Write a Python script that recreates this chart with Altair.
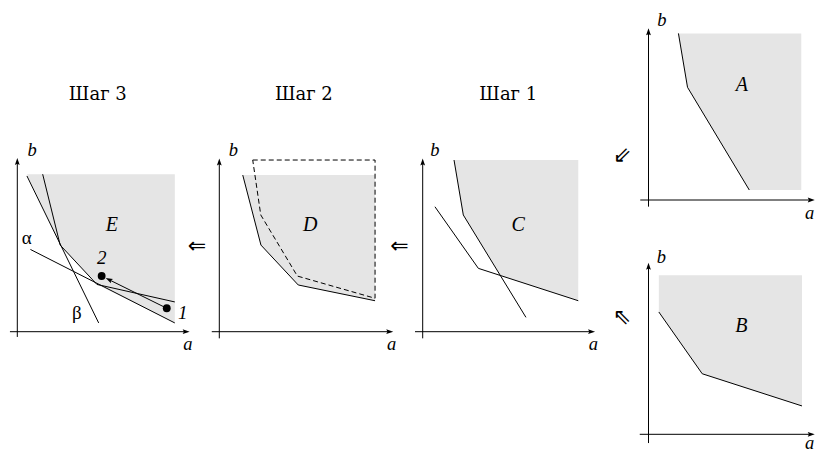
import math
import altair as alt
import pandas as pd

# ------------------------------------------------------------------
# DATA (panel units: a = horizontal, b = vertical)
# ------------------------------------------------------------------
# Step 3 panel (E)
E_region_a = [0.55, 2.45, 4.55, 9.0]
E_region_b = [9.0, 4.95, 2.7, 0.5]
E_region_top = 9.0
E_beta_a = [0.55, 4.65]
E_beta_b = [8.9, 0.5]
E_alpha_a = [0.75, 9.0]
E_alpha_b = [4.7, 0.5]
E_poly_a = [1.45, 2.45, 4.55, 9.0]
E_poly_b = [9.0, 4.95, 2.7, 1.7]
E_pts_name = ["1", "2"]
E_pts_a = [8.54, 4.82]
E_pts_b = [1.34, 3.18]

# Step 2 panel (D)
D_region_a = [1.34, 2.38, 4.51, 8.9]
D_region_b = [8.95, 4.95, 2.67, 1.77]
D_region_top = 8.95
D_dash_a = [1.91, 8.9, 8.9, 4.46, 2.37, 1.91]
D_dash_b = [9.81, 9.81, 1.91, 3.18, 6.67, 9.81]

# Step 1 panel (C)
C_region_a = [1.79, 2.32, 4.44, 8.89]
C_region_b = [9.81, 6.67, 3.21, 1.77]
C_region_top = 9.81
C_line1_a = [1.79, 2.32, 5.9]
C_line1_b = [9.81, 6.67, 0.82]
C_line2_a = [0.7, 3.18, 8.89]
C_line2_b = [7.14, 3.62, 1.77]

# Panel A
A_region_a = [1.71, 2.23, 5.76, 8.73]
A_region_b = [9.52, 6.44, 0.57, 0.57]
A_region_top = 9.52
A_line_a = [1.71, 2.23, 5.76]
A_line_b = [9.52, 6.44, 0.57]

# Panel B
B_region_a = [0.59, 3.07, 8.77]
B_region_b = [6.99, 3.46, 1.62]
B_region_top = 9.09
B_line_a = [0.59, 3.07, 8.77]
B_line_b = [6.99, 3.46, 1.62]

# axis extents per panel: a_from, a_to (arrow tip), b_from, b_to (arrow tip)
AXES = {
    "E": [-0.42, 9.85, -0.3, 9.93],
    "D": [-0.43, 9.94, -0.38, 9.9],
    "C": [-0.44, 9.85, -0.38, 9.9],
    "A": [-0.47, 9.5, -0.38, 9.81],
    "B": [-0.5, 9.5, -0.5, 9.8],
}

# text labels: (panel, text, a, b)
AXIS_NAMES = [
    ("E", "b", 0.84, 10.38), ("E", "a", 9.75, -0.68),
    ("D", "b", 0.8, 10.38), ("D", "a", 9.85, -0.68),
    ("C", "b", 0.7, 10.38), ("C", "a", 9.75, -0.68),
    ("A", "b", 0.77, 10.3), ("A", "a", 9.2, -0.72),
    ("B", "b", 0.73, 10.13), ("B", "a", 9.2, -0.51),
]
REGION_NAMES = [("E", "E", 5.4, 6.1), ("D", "D", 5.2, 6.1), ("C", "C", 5.46, 6.1),
                ("A", "A", 5.34, 6.57), ("B", "B", 5.3, 6.17)]
POINT_NAMES = [("E", "1", 9.45, 1.07), ("E", "2", 4.82, 4.2)]
GREEK = [("E", "α", 0.54, 5.35), ("E", "β", 3.4, 1.07)]
TITLES = [("E", "Шаг 3", 4.6, 13.5), ("D", "Шаг 2", 4.83, 13.5), ("C", "Шаг 1", 4.89, 13.5)]
ARROWS = [("E", "⇐", 10.27, 4.9), ("D", "⇐", 10.3, 4.9),
          ("A", "⇙", -1.5, 2.57), ("B", "⇖", -1.51, 6.7)]

# ------------------------------------------------------------------
# LAYOUT (page pixels) and styles
# ------------------------------------------------------------------
U = 17.5  # pixels per unit
COLS = {"E": (8, 208, 17.3), "D": (208, 410, 219.3), "C": (410, 610, 422.7),
        "A": (610, 816, 648.5), "B": (610, 816, 648.5)}
ROWS = {"E": (8, 453, 331.7), "D": (8, 453, 331.7), "C": (8, 453, 331.7),
        "A": (8, 240, 200.0), "B": (240, 453, 434.3)}
GRAY = "#e5e5e5"
SERIF = "Liberation Serif"
HEAD = "M0,-1L0.6,0.75L0,0.45L-0.6,0.75Z"
HEAD_SIZE = 64
HEAD_R = math.sqrt(HEAD_SIZE) / 2 / U


def geom(p):
    x0, x1, ox = COLS[p]
    y0, y1, oy = ROWS[p]
    xs = alt.Scale(domain=[(x0 - ox) / U, (x1 - ox) / U], nice=False, zero=False)
    ys = alt.Scale(domain=[(oy - y1) / U, (oy - y0) / U], nice=False, zero=False)
    return xs, ys, x1 - x0, y1 - y0


def xy(xs, ys, xf="a", yf="b"):
    return dict(x=alt.X(f"{xf}:Q", scale=xs, axis=None),
                y=alt.Y(f"{yf}:Q", scale=ys, axis=None))


def region(a_list, b_list, top, xs, ys):
    df = pd.DataFrame({"a": a_list, "b": b_list, "b2": [top] * len(a_list)})
    return alt.Chart(df).mark_area(fill=GRAY, fillOpacity=1, opacity=1, strokeWidth=0,
                                   interpolate="linear").encode(
        x=alt.X("a:Q", scale=xs, axis=None),
        y=alt.Y("b:Q", scale=ys, axis=None),
        y2=alt.Y2("b2:Q"))


def polyline(a_list, b_list, xs, ys, dash=None):
    df = pd.DataFrame({"a": a_list, "b": b_list, "i": list(range(len(a_list)))})
    kw = dict(color="black", strokeWidth=1, clip=True)
    if dash:
        kw["strokeDash"] = dash
    return alt.Chart(df).mark_line(**kw).encode(**xy(xs, ys), order="i:Q")


def axes(p, xs, ys):
    a0, a1, b0, b1 = AXES[p]
    rules = pd.DataFrame({"a": [a0, 0.0], "b": [0.0, b0],
                          "a2": [a1 - HEAD_R, 0.0], "b2": [0.0, b1 - HEAD_R]})
    rule = alt.Chart(rules).mark_rule(color="black", strokeWidth=1, clip=True).encode(
        **xy(xs, ys), x2="a2:Q", y2="b2:Q")
    heads = pd.DataFrame({"a": [a1 - HEAD_R, 0.0], "b": [0.0, b1 - HEAD_R], "ang": [90, 0]})
    head = alt.Chart(heads).mark_point(shape=HEAD, filled=True, size=HEAD_SIZE, clip=True,
                                       color="black", opacity=1, strokeWidth=0).encode(
        **xy(xs, ys), angle=alt.Angle("ang:Q", scale=None))
    return [rule, head]


def texts(rows, p, xs, ys, size, italic=False, font=SERIF):
    sel = [r for r in rows if r[0] == p]
    if not sel:
        return []
    df = pd.DataFrame({"t": [r[1] for r in sel], "a": [r[2] for r in sel], "b": [r[3] for r in sel]})
    kw = dict(font=font, fontSize=size, color="black", align="center", baseline="middle", clip=True)
    if italic:
        kw["fontStyle"] = "italic"
    return [alt.Chart(df).mark_text(**kw).encode(**xy(xs, ys), text="t:N")]


def common_text(p, xs, ys):
    out = []
    out += texts(AXIS_NAMES, p, xs, ys, 18.5, italic=True)
    out += texts(REGION_NAMES, p, xs, ys, 20, italic=True)
    out += texts(POINT_NAMES, p, xs, ys, 19, italic=True)
    out += texts(GREEK, p, xs, ys, 19)
    out += texts(TITLES, p, xs, ys, 18, font="DejaVu Serif")
    out += texts(ARROWS, p, xs, ys, 22, font="DejaVu Sans")
    return out


def panel(p, content):
    xs, ys, w, h = geom(p)
    layers = []
    for f in content:
        r = f(xs, ys)
        layers += r if isinstance(r, list) else [r]
    layers += axes(p, xs, ys)
    layers += common_text(p, xs, ys)
    return alt.layer(*layers).properties(width=w, height=h)


# ---- Panel E: move arrow from point 1 to point 2
da = E_pts_a[0] - E_pts_a[1]
db = E_pts_b[0] - E_pts_b[1]
dl = math.hypot(da, db)
ua, ub = da / dl, db / dl
back = 4.5 / U + HEAD_R
head_a = E_pts_a[1] + ua * back
head_b = E_pts_b[1] + ub * back
head_ang = (math.degrees(math.atan2(-da, -db)) + 360) % 360


def e_move(xs, ys):
    ln = pd.DataFrame({"a": [E_pts_a[0]], "b": [E_pts_b[0]], "a2": [head_a], "b2": [head_b]})
    rule = alt.Chart(ln).mark_rule(color="black", strokeWidth=1, clip=True).encode(
        **xy(xs, ys), x2="a2:Q", y2="b2:Q")
    hd = pd.DataFrame({"a": [head_a], "b": [head_b], "ang": [head_ang]})
    head = alt.Chart(hd).mark_point(shape=HEAD, filled=True, size=HEAD_SIZE, color="black",
                                    opacity=1, strokeWidth=0, clip=True).encode(
        **xy(xs, ys), angle=alt.Angle("ang:Q", scale=None))
    pts = pd.DataFrame({"a": E_pts_a, "b": E_pts_b, "n": E_pts_name})
    dots = alt.Chart(pts).mark_circle(size=62, color="black", opacity=1, clip=True).encode(**xy(xs, ys))
    return [rule, head, dots]


E = panel("E", [
    lambda xs, ys: region(E_region_a, E_region_b, E_region_top, xs, ys),
    lambda xs, ys: polyline(E_beta_a, E_beta_b, xs, ys),
    lambda xs, ys: polyline(E_alpha_a, E_alpha_b, xs, ys),
    lambda xs, ys: polyline(E_poly_a, E_poly_b, xs, ys),
    e_move,
])

D = panel("D", [
    lambda xs, ys: region(D_region_a, D_region_b, D_region_top, xs, ys),
    lambda xs, ys: polyline(D_region_a, D_region_b, xs, ys),
    lambda xs, ys: polyline(D_dash_a, D_dash_b, xs, ys, dash=[5, 3]),
])

C = panel("C", [
    lambda xs, ys: region(C_region_a, C_region_b, C_region_top, xs, ys),
    lambda xs, ys: polyline(C_line1_a, C_line1_b, xs, ys),
    lambda xs, ys: polyline(C_line2_a, C_line2_b, xs, ys),
])

A = panel("A", [
    lambda xs, ys: region(A_region_a, A_region_b, A_region_top, xs, ys),
    lambda xs, ys: polyline(A_line_a, A_line_b, xs, ys),
])

B = panel("B", [
    lambda xs, ys: region(B_region_a, B_region_b, B_region_top, xs, ys),
    lambda xs, ys: polyline(B_line_a, B_line_b, xs, ys),
])

chart = alt.hconcat(E, D, C, alt.vconcat(A, B, spacing=0), spacing=0).properties(
    padding=0
).configure_view(stroke=None)

chart.save("out.html", embed_options={"renderer": "svg", "actions": False})
